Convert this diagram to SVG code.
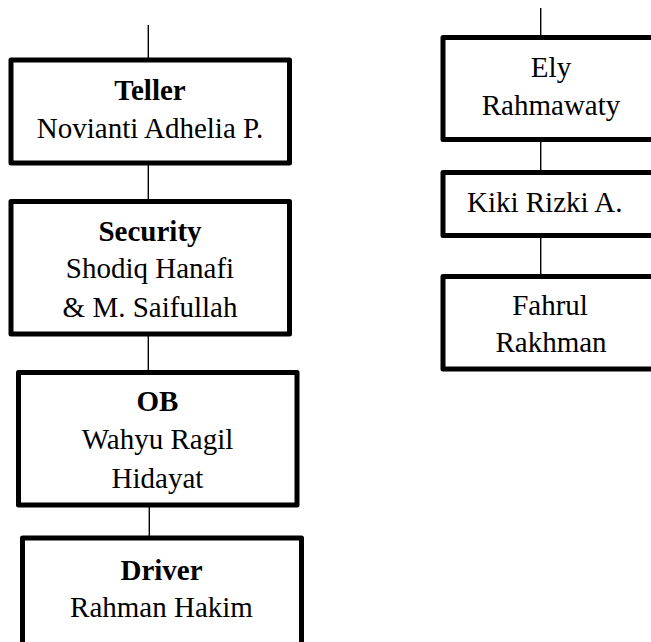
<svg xmlns="http://www.w3.org/2000/svg" width="651" height="642" viewBox="0 0 651 642">
<style>
.box{fill:#fff;stroke:#000;stroke-width:5;stroke-linejoin:round}
.ln{stroke:#000;stroke-width:1.4;fill:none}
text{font-family:"Liberation Serif","Times New Roman",serif;font-size:29px;fill:#000;text-anchor:middle}
.b{font-weight:bold}
</style>
<rect width="651" height="642" fill="#fff"/>
<g id="connectors">
<line class="ln" x1="148.3" y1="25" x2="148.3" y2="58"/>
<line class="ln" x1="148.3" y1="163" x2="148.3" y2="201"/>
<line class="ln" x1="148.3" y1="334" x2="148.3" y2="372"/>
<line class="ln" x1="149.3" y1="505" x2="149.3" y2="538"/>
<line class="ln" x1="540.7" y1="8" x2="540.7" y2="37"/>
<line class="ln" x1="540.7" y1="139" x2="540.7" y2="172"/>
<line class="ln" x1="540.7" y1="235" x2="540.7" y2="276"/>
</g>
<g id="teller">
<rect class="box" x="11" y="60" width="278.5" height="103"/>
<text class="b" x="150" y="100">Teller</text>
<text x="150" y="138.3">Novianti Adhelia P.</text>
</g>
<g id="security">
<rect class="box" x="11" y="201.5" width="278.5" height="132.5"/>
<text class="b" x="150" y="240.7">Security</text>
<text x="150" y="278.3">Shodiq Hanafi</text>
<text x="150" y="316.7">&amp; M. Saifullah</text>
</g>
<g id="ob">
<rect class="box" x="18.5" y="372.5" width="278.5" height="132.5"/>
<text class="b" x="157.5" y="410.7">OB</text>
<text x="157.5" y="449">Wahyu Ragil</text>
<text x="157.5" y="487.7">Hidayat</text>
</g>
<g id="driver">
<rect class="box" x="22.5" y="538" width="279" height="120"/>
<text class="b" x="161.5" y="580">Driver</text>
<text x="161.5" y="616.7">Rahman Hakim</text>
</g>
<g id="ely">
<rect class="box" x="443" y="37.5" width="220" height="102"/>
<text x="551" y="76.7">Ely</text>
<text x="551" y="115">Rahmawaty</text>
</g>
<g id="kiki">
<rect class="box" x="443" y="172.5" width="220" height="63"/>
<text x="544.7" y="211.7">Kiki Rizki A.</text>
</g>
<g id="fahrul">
<rect class="box" x="443" y="276.5" width="220" height="92.5"/>
<text x="550" y="315">Fahrul</text>
<text x="551" y="352.3">Rakhman</text>
</g>
</svg>
